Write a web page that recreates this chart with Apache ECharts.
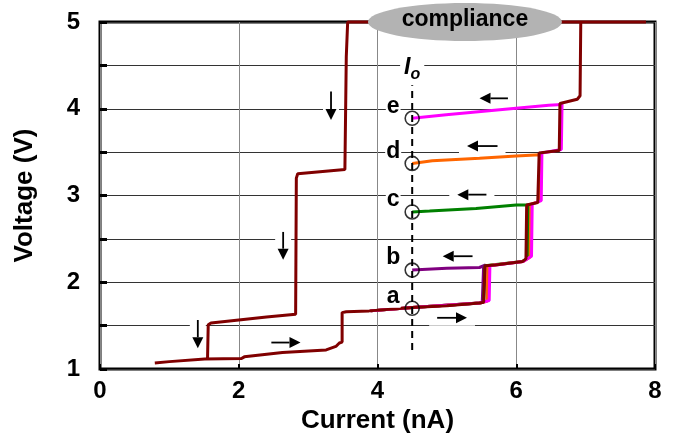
<!DOCTYPE html>
<html>
<head>
<meta charset="utf-8">
<script src="https://cdn.jsdelivr.net/npm/echarts@6/dist/echarts.min.js"></script>
<style>
html, body { margin: 0; padding: 0; background: #fff; }
#chart { width: 674px; height: 446px; }
</style>
</head>
<body>
<div id="chart"></div>
<script>
// sweep data, points are [current (nA), voltage (V)] in sweep order
var loopMain = [
  [0.79, 1.07], [1.0, 1.085], [1.51, 1.115], [2.04, 1.12], [2.08, 1.14], [2.63, 1.19],
  [3.26, 1.22], [3.40, 1.26], [3.45, 1.30], [3.49, 1.31], [3.49, 1.65], [3.55, 1.66],
  [3.88, 1.67], [4.5, 1.71], [5.0, 1.73], [5.47, 1.76], [5.53, 1.77], [5.55, 2.19],
  [5.7, 2.2], [6.09, 2.24], [6.14, 2.27], [6.15, 2.89], [6.31, 2.92], [6.33, 3.49],
  [6.62, 3.52], [6.63, 4.06], [6.88, 4.11], [6.92, 4.15], [6.93, 5.0], [7.87, 5.0],
  [3.57, 5.0], [3.55, 4.6], [3.53, 3.30], [2.85, 3.25], [2.83, 3.2], [2.82, 1.63],
  [2.40, 1.60], [1.60, 1.53], [1.56, 1.51], [1.55, 1.115]
];
var curveB = [
  [3.9, 1.67], [4.5, 1.71], [5.47, 1.76], [5.51, 1.77], [5.53, 2.19], [5.56, 2.20],
  [5.47, 2.17], [5.0, 2.16], [4.5, 2.14]
];
var curveC = [
  [3.9, 1.67], [4.5, 1.71], [5.47, 1.76], [5.53, 1.77], [5.55, 2.19], [6.09, 2.24],
  [6.17, 2.28], [6.18, 2.89], [6.19, 2.91], [6.0, 2.89], [5.42, 2.85], [4.75, 2.82], [4.5, 2.81]
];
var curveD = [
  [3.9, 1.67], [4.5, 1.71], [5.47, 1.76], [5.58, 1.78], [5.59, 2.19], [6.1, 2.24],
  [6.2, 2.29], [6.21, 2.9], [6.33, 2.93], [6.34, 3.47], [6.33, 3.49], [6.0, 3.455],
  [5.47, 3.43], [4.79, 3.40], [4.5, 3.37]
];
var curveE = [
  [3.9, 1.67], [4.5, 1.71], [5.47, 1.76], [5.61, 1.79], [5.62, 2.19], [6.1, 2.24],
  [6.22, 2.3], [6.23, 2.9], [6.36, 2.94], [6.37, 3.49], [6.65, 3.53], [6.66, 4.05],
  [6.64, 4.06], [6.47, 4.04], [5.80, 3.99], [4.99, 3.93], [4.5, 3.89]
];

// read-out current I_o and the marked points
var probeCurrent = 4.5;
var probeVolts = [1.70, 2.14, 2.81, 3.37, 3.89];
var probeNames = ['a', 'b', 'c', 'd', 'e'];
var probeSpan = [1.22, 4.27];

// sweep direction arrows: [x tail, y tail, x tip, y tip]
var arrows = [
  [5.88, 4.12, 5.47, 4.12],
  [5.73, 3.57, 5.29, 3.57],
  [5.57, 3.01, 5.15, 3.01],
  [5.37, 2.30, 4.94, 2.30],
  [4.86, 1.59, 5.29, 1.59],
  [2.47, 1.305, 2.89, 1.305],
  [3.33, 4.20, 3.33, 3.87],
  [2.64, 2.58, 2.64, 2.26],
  [1.41, 1.565, 1.41, 1.24]
];
var complianceAt = [5.26, 5.0];

var FONT = "'Liberation Sans', Arial, sans-serif";

function curve(data, color, z) {
  return {
    type: 'line', data: data, showSymbol: false, silent: true, z: z,
    lineStyle: { color: color, width: 3 }
  };
}

var chart = echarts.init(document.getElementById('chart'));

var option = {
  animation: false,
  grid: { left: 100, right: 19, top: 22, bottom: 77, show: true,
    borderColor: '#000', borderWidth: 3, backgroundColor: 'transparent' },
  xAxis: {
    type: 'value', min: 0, max: 8, interval: 2,
    name: 'Current (nA)', nameLocation: 'middle', nameGap: 38,
    nameTextStyle: { fontFamily: FONT, fontWeight: 'bold', fontSize: 26, color: '#000' },
    axisLine: { show: false },
    axisTick: { show: true, inside: true, length: 5, lineStyle: { color: '#000', width: 2 } },
    axisLabel: { fontFamily: FONT, fontWeight: 'bold', fontSize: 24, color: '#000', margin: 10 },
    splitLine: { show: true, lineStyle: { color: '#888', width: 1 } }
  },
  yAxis: {
    type: 'value', min: 1, max: 5, interval: 0.5,
    name: 'Voltage (V)', nameLocation: 'middle', nameGap: 62, nameRotate: 90,
    nameTextStyle: { fontFamily: FONT, fontWeight: 'bold', fontSize: 26, color: '#000' },
    axisLine: { show: false },
    axisTick: { show: true, inside: true, length: 7, lineStyle: { color: '#000', width: 3 } },
    axisLabel: { fontFamily: FONT, fontWeight: 'bold', fontSize: 24, color: '#000', margin: 20,
      formatter: function (v) { return v % 1 === 0 ? String(v) : ''; } },
    splitLine: { show: true, lineStyle: { color: '#333', width: 1 } }
  },
  series: [
    curve(curveB, '#800080', 2),
    curve(curveC, '#008000', 2),
    curve(curveD, '#FF6600', 2),
    curve(curveE, '#FF00FF', 2),
    Object.assign(curve(loopMain, '#800000', 3), { clip: false }),
    {
      type: 'line', silent: true, showSymbol: false, z: 4,
      data: [[probeCurrent, probeSpan[0]], [probeCurrent, probeSpan[1]]],
      lineStyle: { color: '#000', width: 2, type: [7, 5] }
    },
    {
      type: 'scatter', silent: true, z: 6,
      data: probeVolts.map(function (v) { return [probeCurrent, v]; }),
      symbol: 'circle', symbolSize: 14,
      itemStyle: { color: 'none', borderColor: '#000', borderWidth: 1.6 }
    }
  ]
};
chart.setOption(option);

// annotations placed from data coordinates
function toPx(p) { return chart.convertToPixel({ gridIndex: 0 }, p); }
var g = [];
arrows.forEach(function (a) {
  var p1 = toPx([a[0], a[1]]), p2 = toPx([a[2], a[3]]);
  var dx = p2[0] - p1[0], dy = p2[1] - p1[1];
  var len = Math.sqrt(dx * dx + dy * dy);
  var ux = dx / len, uy = dy / len;
  var hl = 11, hw = 5.5, pad = 8;
  var bx = p2[0] - ux * hl, by = p2[1] - uy * hl;
  g.push({ type: 'rect', z: 1, silent: true,
    shape: { x: Math.min(p1[0], p2[0]) - pad, y: Math.min(p1[1], p2[1]) - pad,
      width: Math.abs(dx) + 2 * pad, height: Math.abs(dy) + 2 * pad },
    style: { fill: '#fff' } });
  g.push({ type: 'line', z: 20, silent: true,
    shape: { x1: p1[0], y1: p1[1], x2: bx, y2: by },
    style: { stroke: '#000', lineWidth: 1.8 } });
  g.push({ type: 'polygon', z: 20, silent: true,
    shape: { points: [[p2[0], p2[1]], [bx - uy * hw, by + ux * hw], [bx + uy * hw, by - ux * hw]] },
    style: { fill: '#000' } });
});

// point letters a..e, up-left of each circle
probeVolts.forEach(function (v, i) {
  var p = toPx([probeCurrent, v]);
  g.push({ type: 'text', z: 25, silent: true, x: p[0] - 19, y: p[1] - 12,
    style: { text: probeNames[i], font: 'bold 23px ' + FONT, fill: '#000',
      align: 'center', verticalAlign: 'middle', textAlign: 'center', textVerticalAlign: 'middle',
      backgroundColor: '#fff', padding: [0, 1] } });
});

var c = toPx(complianceAt);
g.push({ type: 'ellipse', z: 30, silent: true,
  shape: { cx: c[0], cy: c[1], rx: 97, ry: 19 }, style: { fill: '#B3B3B3' } });
g.push({ type: 'text', z: 31, silent: true, x: c[0], y: c[1] - 2,
  style: { text: 'compliance', font: 'bold 23px ' + FONT, fill: '#000',
    align: 'center', verticalAlign: 'middle', textAlign: 'center', textVerticalAlign: 'middle' } });

var io = toPx([probeCurrent, 4.5]);
g.push({ type: 'text', z: 31, silent: true, x: io[0], y: io[1] + 2,
  style: { text: '{i|I}{o|o}', fill: '#000',
    align: 'center', verticalAlign: 'middle', textAlign: 'center', textVerticalAlign: 'middle',
    backgroundColor: '#fff', padding: [0, 4],
    rich: {
      i: { font: 'italic bold 23px ' + FONT, fill: '#000' },
      o: { font: 'italic bold 16px ' + FONT, fill: '#000', padding: [14, 0, 0, 0] }
    } } });

chart.setOption({ graphic: { elements: g } });
</script>
</body>
</html>
